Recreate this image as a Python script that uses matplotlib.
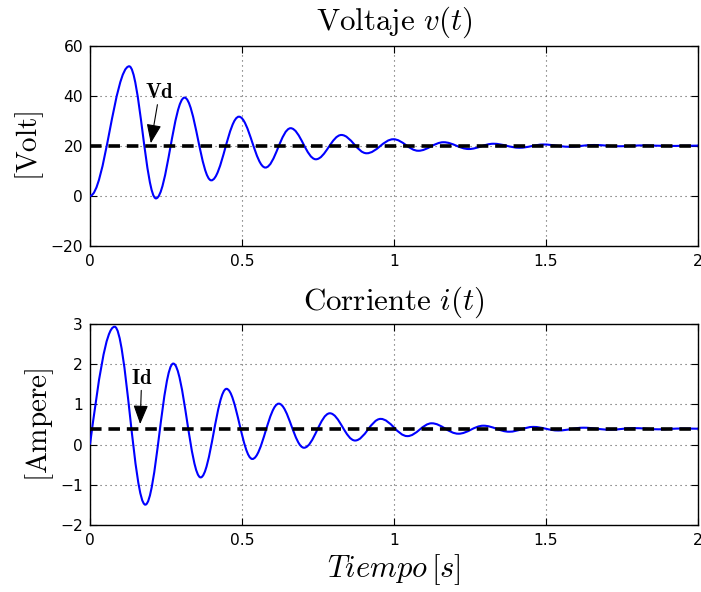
import matplotlib
matplotlib.use('Agg')
import matplotlib.pyplot as plt
from matplotlib.path import Path
from matplotlib.patches import PathPatch

# ---------------- data ----------------
# extrema (peaks / troughs) of the voltage curve
v_time = [0.0, 0.129, 0.217, 0.311, 0.399, 0.490, 0.577, 0.660, 0.743, 0.827,
          0.910, 0.998, 1.080, 1.163, 1.246, 1.327, 1.413, 1.492, 1.575, 1.658,
          1.741, 1.824, 1.907, 2.0]
v_value = [0.0, 51.7, -1.0, 39.2, 6.2, 31.6, 11.3, 27.0, 14.6, 24.3,
           17.0, 22.6, 18.0, 21.4, 18.7, 20.8, 19.2, 20.5, 19.6, 20.3,
           19.8, 20.15, 19.9, 20.05]
# extrema of the current curve (first point is the start value)
i_time = [0.0, 0.081, 0.182, 0.274, 0.364, 0.449, 0.534, 0.621, 0.704, 0.789,
          0.872, 0.956, 1.044, 1.124, 1.212, 1.294, 1.379, 1.458, 1.540, 1.623,
          1.710, 1.790, 1.870, 1.950, 2.0]
i_value = [0.0, 2.94, -1.50, 2.02, -0.82, 1.39, -0.36, 1.02, -0.08, 0.78,
           0.10, 0.64, 0.21, 0.53, 0.27, 0.47, 0.32, 0.44, 0.35, 0.42,
           0.37, 0.41, 0.38, 0.40, 0.395]
Vd = 20.0
Id = 0.4
x_ticks = [0, 0.5, 1, 1.5, 2]
x_ticklabels = ['0', '0.5', '1', '1.5', '2']
v_yticks = [-20, 0, 20, 40, 60]
i_yticks = [-2, -1, 0, 1, 2, 3]

# ---------------- style ----------------
plt.rcParams['font.family'] = ['DejaVu Sans']
plt.rcParams['mathtext.fontset'] = 'cm'

BLUE = '#0000ff'
W, H = 701.0, 592.0


def smooth_path(ts, ys, sloped_start=False):
    """Smooth cubic-Bezier path through extrema (horizontal tangents)."""
    verts = [(ts[0], ys[0])]
    codes = [Path.MOVETO]
    k = 0.3634
    for j in range(len(ts) - 1):
        t0, y0, t1, y1 = ts[j], ys[j], ts[j + 1], ys[j + 1]
        dt = t1 - t0
        if j == 0 and sloped_start:
            c1 = (t0 + 0.334 * dt, y0 + 0.525 * (y1 - y0))
            c2 = (t0 + 0.637 * dt, y1)
        else:
            c1 = (t0 + k * dt, y0)
            c2 = (t1 - k * dt, y1)
        verts += [c1, c2, (t1, y1)]
        codes += [Path.CURVE4] * 3
    return Path(verts, codes)


def style_axes(ax, yticks, ylim):
    ax.set_xlim(0, 2)
    ax.set_ylim(*ylim)
    ax.set_xticks(x_ticks)
    ax.set_xticklabels(x_ticklabels)
    ax.set_yticks(yticks)
    ax.tick_params(direction='in', length=5, width=0.8, top=True, right=True,
                   labelsize=11.2, colors='black')
    ax.tick_params(axis='x', pad=6)
    ax.tick_params(axis='y', pad=5)
    ax.grid(True, linestyle=(0, (1, 3.5)), linewidth=0.8, color='#555555')
    ax.set_axisbelow(True)
    for s in ax.spines.values():
        s.set_linewidth(1.0)


fig = plt.figure(figsize=(W / 100, H / 100), dpi=100)
ax1 = fig.add_axes([90 / W, 1 - 246 / H, 608 / W, 200.5 / H])
ax2 = fig.add_axes([90 / W, 1 - 524.7 / H, 608 / W, 200.4 / H])
xc = 394 / W

ARROW = dict(arrowstyle='-|>,head_length=0.9,head_width=0.35',
             color='black', linewidth=0.8, mutation_scale=13,
             shrinkA=0, shrinkB=0)

# ---- voltage ----
style_axes(ax1, v_yticks, (-20, 60))
ax1.add_patch(PathPatch(smooth_path(v_time, v_value), fill=False,
                        edgecolor=BLUE, linewidth=1.5, zorder=3))
ax1.plot([0, 2], [Vd, Vd], color='black', linewidth=2.6,
         linestyle=(0, (3.2, 1.9)), zorder=4)
ax1.annotate(r'$\mathbf{Vd}$', xy=(0.200, 21.0), xytext=(0.229, 37.5),
             fontsize=15, ha='center', va='bottom', arrowprops=ARROW, zorder=5)
fig.text(xc, 1 - 29.3 / H, r'$\mathrm{Voltaje}\ v(t)$', fontsize=22.3,
         ha='center', va='baseline')
ax1.set_ylabel(r'$[\mathrm{Volt}]$', fontsize=21, labelpad=3)

# ---- current ----
style_axes(ax2, i_yticks, (-2, 3))
ax2.add_patch(PathPatch(smooth_path(i_time, i_value, sloped_start=True),
                        fill=False, edgecolor=BLUE, linewidth=1.5, zorder=3))
ax2.plot([0, 2], [Id, Id], color='black', linewidth=2.6,
         linestyle=(0, (3.2, 1.9)), zorder=4)
ax2.annotate(r'$\mathbf{Id}$', xy=(0.165, 0.51), xytext=(0.170, 1.42),
             fontsize=15, ha='center', va='bottom', arrowprops=ARROW, zorder=5)
fig.text(xc, 1 - 309.3 / H, r'$\mathrm{Corriente}\ i(t)$', fontsize=22.3,
         ha='center', va='baseline')
ax2.set_ylabel(r'$[\mathrm{Ampere}]$', fontsize=21, labelpad=3)
fig.text(xc, 1 - 577.3 / H, r'$Tiempo\,[s]$', fontsize=22,
         ha='center', va='baseline')

fig.savefig('out.png', dpi=100)
